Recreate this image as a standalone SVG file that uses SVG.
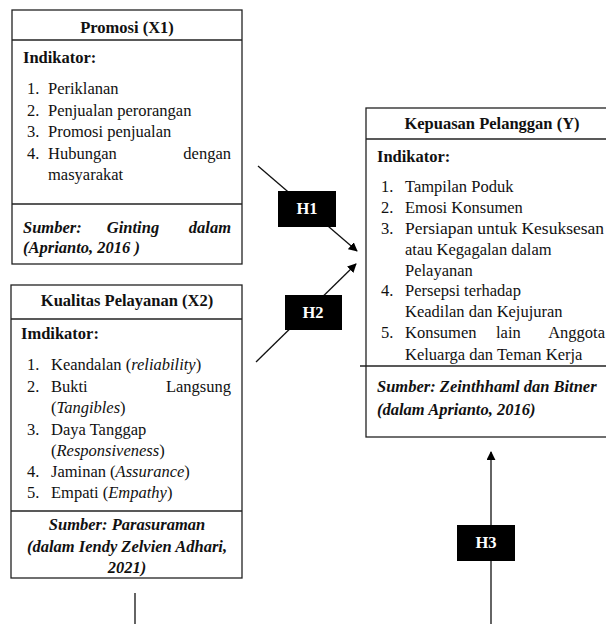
<svg xmlns="http://www.w3.org/2000/svg" width="606" height="624" viewBox="0 0 606 624">
<defs>
<marker id="arr" viewBox="0 0 10 10" refX="9" refY="5" markerWidth="9" markerHeight="9" markerUnits="userSpaceOnUse" orient="auto">
<path d="M0,0 L10,5 L0,10 z" fill="#000"/>
</marker>
<style>
.box{fill:#fff;stroke:#222;stroke-width:1.3}
.sep{stroke:#222;stroke-width:1.3}
text{font-family:"Liberation Serif","Times New Roman",serif;font-size:16.5px;fill:#111}
.b{font-weight:bold}
.bi{font-weight:bold;font-style:italic}
.i{font-style:italic}
.c{text-anchor:middle}
.r{text-anchor:end}
.conn{stroke:#111;stroke-width:1.3;fill:none}
.hb{fill:#000}
.ht{fill:#fff;font-weight:bold;text-anchor:middle}
</style>
</defs>
<g id="x1">
<rect class="box" x="12" y="10" width="230" height="254"/>
<line class="sep" x1="12" y1="40" x2="242" y2="40"/>
<line class="sep" x1="12" y1="204" x2="242" y2="204"/>
<text class="b c" x="127" y="33">Promosi (X1)</text>
<text class="b" x="23" y="63">Indikator:</text>
<text x="27" y="94">1.</text><text x="48" y="94">Periklanan</text>
<text x="27" y="116">2.</text><text x="48" y="116">Penjualan perorangan</text>
<text x="27" y="137">3.</text><text x="48" y="137">Promosi penjualan</text>
<text x="27" y="159">4.</text><text x="48" y="159">Hubungan</text><text class="r" x="231" y="159">dengan</text>
<text x="48" y="180">masyarakat</text>
<text class="bi" x="23" y="233">Sumber:</text><text class="bi c" x="133" y="233">Ginting</text><text class="bi r" x="231" y="233">dalam</text>
<text class="bi" x="23" y="253">(Aprianto, 2016 )</text>
</g>
<g id="x2">
<rect class="box" x="11" y="285" width="231" height="293"/>
<line class="sep" x1="11" y1="319" x2="242" y2="319"/>
<line class="sep" x1="11" y1="511" x2="242" y2="511"/>
<text class="b c" x="127" y="306">Kualitas Pelayanan (X2)</text>
<text class="b" x="21" y="339">Imdikator:</text>
<text x="27" y="370">1.</text><text x="51" y="370">Keandalan (<tspan class="i">reliability</tspan>)</text>
<text x="27" y="392">2.</text><text x="51" y="392">Bukti</text><text class="r" x="231" y="392">Langsung</text>
<text x="51" y="413">(<tspan class="i">Tangibles</tspan>)</text>
<text x="27" y="435">3.</text><text x="51" y="435">Daya Tanggap</text>
<text x="51" y="456">(<tspan class="i">Responsiveness</tspan>)</text>
<text x="27" y="477">4.</text><text x="51" y="477">Jaminan (<tspan class="i">Assurance</tspan>)</text>
<text x="27" y="498">5.</text><text x="51" y="498">Empati (<tspan class="i">Empathy</tspan>)</text>
<text class="bi c" x="127" y="530">Sumber: Parasuraman</text>
<text class="bi c" x="127" y="552">(dalam Iendy Zelvien Adhari,</text>
<text class="bi c" x="127" y="573">2021)</text>
</g>
<g id="y">
<rect class="box" x="366" y="108" width="260" height="329"/>
<line class="sep" x1="366" y1="139" x2="606" y2="139"/>
<line class="sep" x1="360" y1="366" x2="606" y2="366"/>
<text class="b c" x="492" y="129">Kepuasan Pelanggan (Y)</text>
<text class="b" x="377" y="162">Indikator:</text>
<text x="381" y="192">1.</text><text x="405" y="192">Tampilan Poduk</text>
<text x="381" y="213">2.</text><text x="405" y="213">Emosi Konsumen</text>
<text x="381" y="234">3.</text><text x="405" y="234" textLength="199" lengthAdjust="spacingAndGlyphs">Persiapan untuk Kesuksesan</text>
<text x="405" y="255">atau Kegagalan dalam</text>
<text x="405" y="276">Pelayanan</text>
<text x="381" y="296">4.</text><text x="405" y="296">Persepsi terhadap</text>
<text x="405" y="317">Keadilan dan Kejujuran</text>
<text x="381" y="338">5.</text><text x="405" y="338">Konsumen</text><text x="496" y="338">lain</text><text class="r" x="605" y="338">Anggota</text>
<text x="405" y="360">Keluarga dan Teman Kerja</text>
<text class="bi" x="377" y="392">Sumber: Zeinthhaml dan Bitner</text>
<text class="bi" x="377" y="415">(dalam Aprianto, 2016)</text>
</g>
<g id="connectors">
<line class="conn" x1="258" y1="166" x2="357" y2="251" marker-end="url(#arr)"/>
<line class="conn" x1="256" y1="362" x2="356" y2="264" marker-end="url(#arr)"/>
<line class="conn" x1="491" y1="624" x2="491" y2="452" marker-end="url(#arr)"/>
<line class="conn" x1="135" y1="593" x2="135" y2="624"/>
</g>
<g id="h1"><rect class="hb" x="278" y="191" width="58" height="36"/><text class="ht" x="307" y="214">H1</text></g>
<g id="h2"><rect class="hb" x="285" y="295" width="57" height="35"/><text class="ht" x="313" y="318">H2</text></g>
<g id="h3"><rect class="hb" x="457" y="525" width="58" height="36"/><text class="ht" x="486" y="548">H3</text></g>
</svg>
